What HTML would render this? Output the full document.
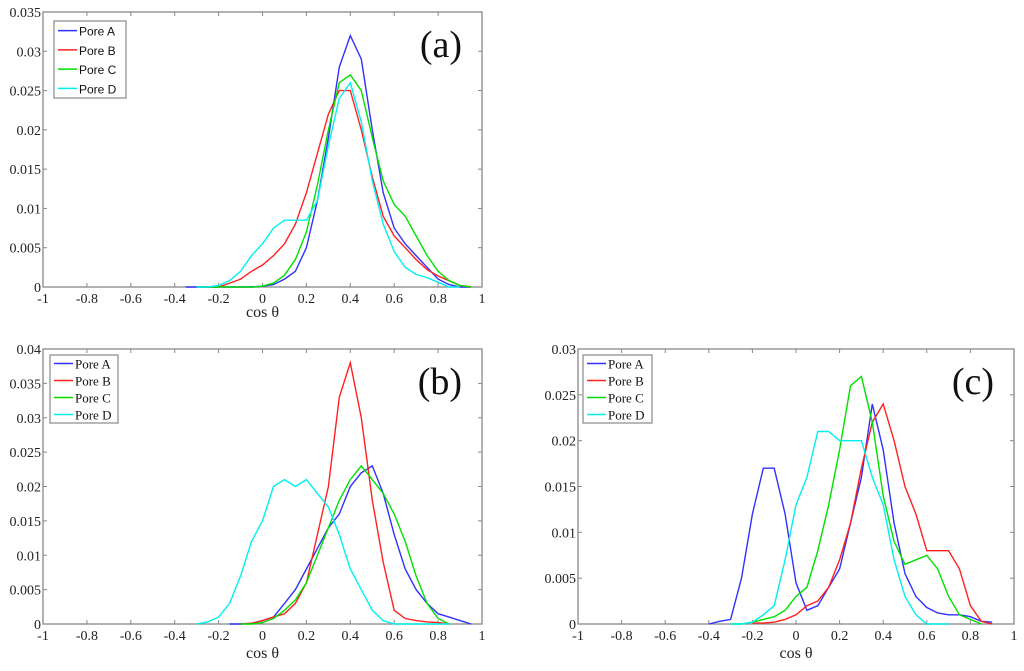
<!DOCTYPE html>
<html><head><meta charset="utf-8"><style>
body{margin:0;background:#fff;width:1024px;height:666px;overflow:hidden}
svg text{font-family:"Liberation Serif",serif}
</style></head><body>
<svg id="fig" width="1024" height="666" xmlns="http://www.w3.org/2000/svg"></svg>
<script>
const xs=[-0.4,-0.35,-0.3,-0.25,-0.2,-0.15,-0.1,-0.05,0,0.05,0.1,0.15,0.2,0.25,0.3,0.35,0.4,0.45,0.5,0.55,0.6,0.65,0.7,0.75,0.8,0.85,0.9,0.95];
const seriesNames=["Pore A","Pore B","Pore C","Pore D"];
const seriesColors=["#3030ff","#ff2020","#00e000","#00f0f0"];
const xTicks=[-1,-0.8,-0.6,-0.4,-0.2,0,0.2,0.4,0.6,0.8,1];
const aA=[null,0,0,0,0,0,0,0,0.0001,0.0003,0.001,0.002,0.005,0.011,0.019,0.028,0.032,0.029,0.02,0.012,0.0075,0.0055,0.004,0.0025,0.001,0.0003,0,0];
const aB=[null,null,0,0,0,0.0005,0.001,0.002,0.0028,0.004,0.0055,0.008,0.012,0.017,0.022,0.025,0.025,0.02,0.014,0.009,0.0065,0.005,0.0035,0.0022,0.0014,0.0008,0.0002,0];
const aC=[null,null,0,0,0,0,0,0,0.0001,0.0005,0.0015,0.0035,0.007,0.013,0.02,0.026,0.027,0.025,0.019,0.0135,0.0105,0.009,0.0065,0.004,0.002,0.0008,0.0002,0];
const aD=[null,null,0,0,0.0002,0.0008,0.002,0.004,0.0055,0.0075,0.0085,0.0085,0.0085,0.011,0.018,0.024,0.026,0.021,0.0135,0.008,0.0045,0.0025,0.0016,0.0012,0.0006,0,0,null];
const bA=[null,null,null,null,null,0,0,0.0001,0.0005,0.001,0.003,0.005,0.008,0.011,0.014,0.016,0.02,0.022,0.023,0.019,0.013,0.008,0.005,0.003,0.0015,0.001,0.0005,0];
const bB=[null,null,null,null,null,null,0,0.0001,0.0005,0.001,0.0015,0.003,0.006,0.013,0.02,0.033,0.038,0.03,0.018,0.009,0.002,0.0008,0.0005,0.0003,0.0002,0,null,null];
const bC=[null,null,null,null,null,null,0,0,0.0002,0.0008,0.002,0.0035,0.006,0.01,0.014,0.018,0.021,0.023,0.021,0.019,0.016,0.012,0.007,0.003,0.0008,0,null,null];
const bD=[null,null,0,0.0003,0.001,0.003,0.007,0.012,0.015,0.02,0.021,0.02,0.021,0.019,0.017,0.013,0.008,0.005,0.002,0.0005,0,0,0,0,0,0,null,null];
const cA=[0,0.0003,0.0005,0.005,0.012,0.017,0.017,0.012,0.0045,0.0015,0.002,0.004,0.006,0.011,0.016,0.024,0.019,0.011,0.0055,0.003,0.0018,0.0012,0.001,0.001,0.0008,0.0003,0.0002,null];
const cB=[null,null,null,null,0.0001,0.0001,0.0002,0.0005,0.001,0.002,0.0025,0.004,0.007,0.011,0.017,0.022,0.024,0.02,0.015,0.012,0.008,0.008,0.008,0.006,0.002,0.0003,0,null];
const cC=[null,null,0,0,0.0002,0.0005,0.0008,0.0015,0.003,0.004,0.008,0.013,0.019,0.026,0.027,0.022,0.014,0.009,0.0065,0.007,0.0075,0.006,0.003,0.001,0.0005,0,null,null];
const cD=[null,null,0,0,0.0002,0.001,0.002,0.007,0.013,0.016,0.021,0.021,0.02,0.02,0.02,0.016,0.013,0.007,0.003,0.001,0,0,0,null,null,null,null,null];
const yTicksA=[0,0.005,0.01,0.015,0.02,0.025,0.03,0.035];
const yTicksB=[0,0.005,0.01,0.015,0.02,0.025,0.03,0.035,0.04];
const yTicksC=[0,0.005,0.01,0.015,0.02,0.025,0.03];

const svg=document.getElementById('fig');
const NS="http://www.w3.org/2000/svg";
function mk(tag,attrs,parent){const e=document.createElementNS(NS,tag);for(const k in attrs)e.setAttribute(k,attrs[k]);(parent||svg).appendChild(e);return e;}

function panel(id,L,R,T,B,ymax,yTicks,series,tag,legend,sansLegend,titleOff){
  const g=mk('g',{});
  
  
  const sx=v=>L+(v+1)/2*(R-L);
  const sy=v=>B-v/ymax*(B-T);
  const box=mk('rect',{x:L,y:T,width:R-L,height:B-T,fill:'none',stroke:'#888','stroke-width':1.3},g);
  
  
  xTicks.forEach(t=>{
    const x=sx(t);
    mk('line',{x1:x,x2:x,y1:B,y2:B-4,stroke:'#888'},g);
    mk('line',{x1:x,x2:x,y1:T,y2:T+4,stroke:'#888'},g);
    const tx=mk('text',{x:x,y:B+16,'text-anchor':'middle','font-size':14,fill:'#222'},g);
    tx.textContent=String(t);
    
    
  });
  yTicks.forEach(t=>{
    const y=sy(t);
    mk('line',{x1:L,x2:L+4,y1:y,y2:y,stroke:'#888'},g);
    mk('line',{x1:R,x2:R-4,y1:y,y2:y,stroke:'#888'},g);
    const tx=mk('text',{x:L-2,y:y+5,'text-anchor':'end','font-size':14,fill:'#222'},g);
    tx.textContent=String(t);
    
    
  });
  series.forEach((s,i)=>{
    let d='';let started=false;
    xs.forEach((x,j)=>{const v=s[j];if(v===null||v===undefined){started=false;return;}d+=(started?'L':'M')+sx(x).toFixed(1)+','+sy(v).toFixed(1);started=true;});
    const p=mk('path',{d:d,fill:'none',stroke:seriesColors[i],'stroke-width':1.4},g);
    
    
  });
  const xl=mk('text',{x:(L+R)/2,y:B+titleOff,'text-anchor':'middle','font-size':16,fill:'#222'},g);
  xl.textContent='cos θ';
  
  
  const pl=mk('text',{x:R-20,y:T+45,'text-anchor':'end','font-size':38,fill:'#111'},g);
  pl.textContent=tag;
  
  
  const [lx,ly,lw,lh]=legend;
  const lg=mk('g',{},g);
  
  
  mk('rect',{x:lx,y:ly,width:lw,height:lh,fill:'#fff',stroke:'#888','stroke-width':1.2},lg);
  seriesNames.forEach((n,i)=>{
    const y=ly+lh*(i+0.5)/4+1;
    mk('line',{x1:lx+4,x2:lx+23,y1:y-1,y2:y-1,stroke:seriesColors[i],'stroke-width':1.5},lg);
    const t=mk('text',{x:lx+25,y:y+4,'font-size':sansLegend?12:13,fill:'#111'},lg);
    if(sansLegend)t.setAttribute('style','font-family:"Liberation Sans",sans-serif');
    t.textContent=n;
    
    
  });
}
panel('a',43,482,12,287,0.035,yTicksA,[aA,aB,aC,aD],'(a)',[54,21,72,77],true,30);
panel('b',43,482,349,624,0.04,yTicksB,[bA,bB,bC,bD],'(b)',[50,355,68,68],false,34);
panel('c',578,1014,349,624,0.03,yTicksC,[cA,cB,cC,cD],'(c)',[583,355,69,68],false,34);
</script>
</body></html>
